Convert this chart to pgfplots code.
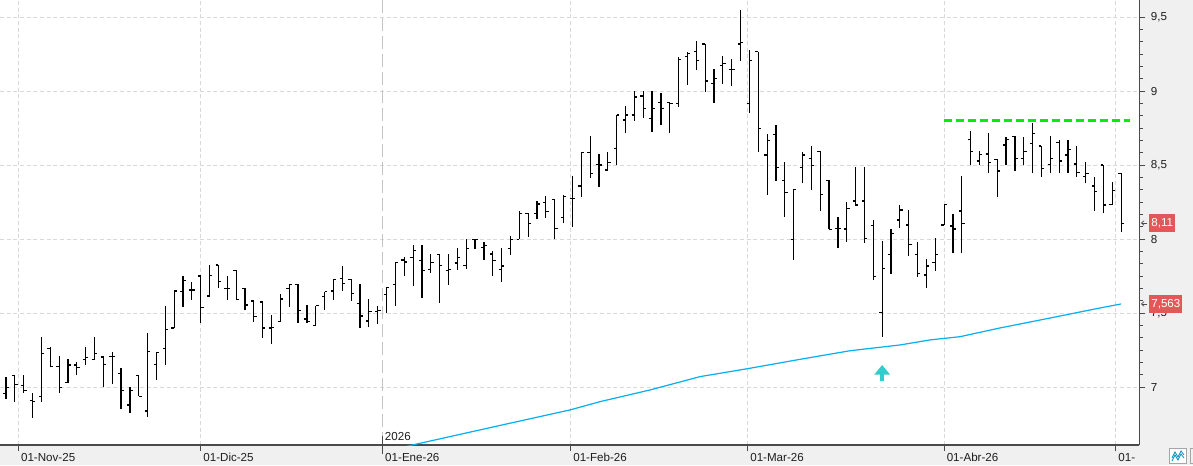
\documentclass[border=0pt]{standalone}
\usepackage{pgfplots}
\pgfplotsset{compat=1.18}
\usepackage{pgfplotstable}
\usepackage{fontspec}
\setmainfont{Liberation Sans}
\usetikzlibrary{arrows.meta}
\definecolor{bandgray}{HTML}{F0F0F0}
\definecolor{gridgray}{HTML}{D9D9D9}
\definecolor{yeargray}{HTML}{C4C4C4}
\definecolor{axisgray}{HTML}{4A4A4A}
\definecolor{txt}{HTML}{1E1E1E}
\definecolor{maBlue}{HTML}{00B0F0}
\definecolor{resGreen}{HTML}{00F000}
\definecolor{upTeal}{HTML}{33CCCC}
\definecolor{tagRed}{HTML}{E25858}

\pgfdeclareplotmark{ohlcopen}{\pgfpathmoveto{\pgfqpoint{-\pgfplotmarksize}{0pt}}\pgfpathlineto{\pgfqpoint{0pt}{0pt}}\pgfusepathqstroke}
\pgfdeclareplotmark{ohlcclose}{\pgfpathmoveto{\pgfqpoint{0pt}{0pt}}\pgfpathlineto{\pgfqpoint{\pgfplotmarksize}{0pt}}\pgfusepathqstroke}
\pgfdeclareplotmark{nomark}{}

\pgfplotstableread{
i O H L C
1 6.96 7.07 6.92 7.00
2 7.08 7.08 6.90 7.02
3 7.01 7.08 6.96 6.98
4 6.91 6.96 6.795 6.905
5 6.94 7.34 6.90 7.23
6 7.26 7.27 7.135 7.14
7 7.14 7.21 6.96 7.00
8 7.03 7.19 7.03 7.15
9 7.15 7.17 7.085 7.135
10 7.19 7.27 7.15 7.20
11 7.19 7.34 7.19 7.23
12 7.205 7.21 7.005 7.155
13 7.21 7.24 7.02 7.21
14 7.095 7.13 6.856 6.98
15 6.88 7.00 6.825 6.98
16 7.08 7.08 6.94 6.94
17 6.84 7.365 6.80 7.24
18 7.155 7.234 7.05 7.234
19 7.26 7.55 7.15 7.39
20 7.40 7.65 7.40 7.65
21 7.646 7.752 7.545 7.72
22 7.657 7.71 7.59 7.657
23 7.752 7.752 7.436 7.54
24 7.617 7.826 7.617 7.758
25 7.826 7.826 7.668 7.716
26 7.67 7.752 7.59 7.67
27 7.79 7.79 7.594 7.594
28 7.668 7.668 7.52 7.556
29 7.583 7.59 7.443 7.477
30 7.576 7.576 7.335 7.40
31 7.40 7.488 7.292 7.405
32 7.443 7.63 7.443 7.596
33 7.668 7.70 7.545 7.695
34 7.695 7.695 7.436 7.52
35 7.461 7.556 7.432 7.443
36 7.42 7.55 7.42 7.55
37 7.612 7.646 7.52 7.646
38 7.65 7.73 7.59 7.73
39 7.736 7.82 7.653 7.70
40 7.73 7.73 7.585 7.635
41 7.567 7.698 7.40 7.482
42 7.448 7.594 7.405 7.51
43 7.51 7.55 7.43 7.518
44 7.628 7.676 7.50 7.676
45 7.696 7.845 7.55 7.845
46 7.86 7.878 7.752 7.847
47 7.878 7.96 7.685 7.926
48 7.858 7.96 7.606 7.79
49 7.797 7.901 7.775 7.845
50 7.899 7.899 7.572 7.824
51 7.79 7.901 7.692 7.797
52 7.84 7.94 7.793 7.878
53 7.824 8.0 7.80 7.94
54 8.0 8.0 7.935 8.0
55 7.946 7.982 7.86 7.96
56 7.901 7.921 7.752 7.858
57 7.797 7.94 7.714 7.82
58 7.94 8.023 7.894 8.0
59 8.0 8.19 8.0 8.176
60 8.176 8.176 8.018 8.108
61 8.176 8.259 8.135 8.239
62 8.25 8.293 8.147 8.187
63 8.27 8.27 8.0 8.074
64 8.149 8.30 8.108 8.288
65 8.277 8.428 8.086 8.277
66 8.36 8.588 8.288 8.588
67 8.588 8.698 8.417 8.446
68 8.507 8.576 8.356 8.502
69 8.468 8.59 8.464 8.52
70 8.615 8.84 8.504 8.84
71 8.806 8.901 8.716 8.84
72 8.84 9.002 8.802 8.962
73 8.968 9.002 8.817 8.885
74 8.817 9.002 8.727 8.885
75 8.926 8.986 8.772 8.885
76 8.923 8.923 8.716 8.919
77 8.919 9.234 8.896 9.216
78 9.234 9.268 9.043 9.257
79 9.268 9.34 9.144 9.207
80 9.32 9.32 8.998 9.07
81 9.054 9.151 8.923 9.088
82 9.173 9.239 9.05 9.189
83 9.148 9.216 9.036 9.148
84 9.32 9.549 9.207 9.332
85 8.919 9.279 8.856 9.207
86 9.268 9.268 8.592 8.75
87 8.57 8.712 8.30 8.67
88 8.71 8.772 8.396 8.486
89 8.40 8.522 8.153 8.317
90 8.0 8.337 7.86 8.337
91 8.486 8.592 8.378 8.569
92 8.547 8.63 8.333 8.50
93 8.594 8.594 8.193 8.304
94 8.398 8.398 8.067 8.067
95 8.074 8.153 7.943 8.074
96 8.069 8.252 7.984 8.209
97 8.259 8.491 8.225 8.232
98 8.259 8.491 7.977 8.006
99 8.094 8.13 7.725 7.747
100 7.506 7.988 7.342 7.804
101 7.898 8.069 7.765 8.04
102 8.13 8.232 8.074 8.198
103 8.096 8.198 7.889 7.966
104 7.898 7.979 7.747 7.77
105 7.759 7.864 7.673 7.819
106 7.844 8.011 7.788 7.898
107 8.096 8.236 8.096 8.236
108 8.09 8.171 7.905 8.069
109 8.191 8.427 7.905 8.108
110 8.675 8.731 8.50 8.596
111 8.529 8.596 8.50 8.574
112 8.576 8.72 8.446 8.52
113 8.54 8.54 8.288 8.461
114 8.637 8.693 8.50 8.677
115 8.693 8.698 8.464 8.547
116 8.547 8.689 8.50 8.592
117 8.648 8.788 8.446 8.716
118 8.63 8.63 8.423 8.479
119 8.506 8.698 8.446 8.547
120 8.655 8.671 8.446 8.529
121 8.569 8.671 8.446 8.608
122 8.509 8.63 8.423 8.452
123 8.427 8.522 8.378 8.446
124 8.36 8.423 8.193 8.322
125 8.502 8.502 8.175 8.232
126 8.236 8.389 8.232 8.328
127 8.446 8.446 8.051 8.108
}\ohlc

\pgfplotstableread{
i ma
46 6.597
47.29 6.615
56.8 6.742
64.73 6.847
68.12 6.903
73.77 6.982
79.42 7.072
84.81 7.126
90.72 7.189
96.37 7.247
102.02 7.286
105.4 7.320
108.8 7.342
113.32 7.401
118.97 7.468
124.62 7.536
127 7.563
}\matable

\begin{document}
\begin{tikzpicture}
\path[use as bounding box] (0,0) rectangle (894.75pt,-348.75pt);
\fill[bandgray] (0,0) rectangle (894.75pt,-348.75pt);
\begin{axis}[
  at={(0pt,0pt)}, anchor=north west,
  scale only axis, width=854.5pt, height=333.75pt,
  xmin=0.322, xmax=129.06, ymin=6.61, ymax=9.617,
  axis background/.style={fill=white},
  axis x line*=bottom, axis y line*=right,
  axis line style={draw=axisgray, line width=1pt},
  tick align=outside,
  major tick length=4.5pt, minor tick length=2.6pt,
  tick style={draw=axisgray, line width=0.75pt},
  ytick={7,7.5,8,8.5,9,9.5}, minor y tick num=5,
  xtick={2.4,23,64.8,84.8,107,126.4},
  xticklabels={01-Nov-25,01-Dic-25,01-Feb-26,01-Mar-26,01-Abr-26,01-},
  extra x ticks={43.55}, extra x tick labels={01-Ene-26},
  extra x tick style={major tick length=13.5pt, tick align=center,
     xticklabel style={yshift=2.25pt},
     grid style={draw=yeargray, line width=1pt, dash pattern=on 10pt off 3.5pt}},
  xmajorgrids, ymajorgrids,
  grid style={draw=gridgray, line width=0.75pt, dash pattern=on 3pt off 2pt},
  /pgf/number format/assume math mode=true,
  /pgf/number format/use comma,
  ticklabel style={font=\fontsize{8.7}{10}\selectfont, text=txt},
  xticklabel style={anchor=base west, inner sep=0pt, xshift=1.8pt, yshift=-7.5pt},
  yticklabel style={anchor=west, inner sep=0pt, xshift=4pt},
  clip mode=individual,
]
% moving average
\addplot[maBlue, line width=0.9pt] table[x=i, y=ma] {\matable};
% resistance
\addplot[resGreen, line width=2.2pt, dash pattern=on 6pt off 3pt] coordinates {(107,8.80) (128,8.80)};
% OHLC high-low
\addplot[black, only marks, mark=nomark,
  error bars/.cd, y dir=plus, y explicit, error mark=none,
  error bar style={draw=black, line width=0.9pt, solid}]
  table[x=i, y=L, y error expr=\thisrow{H}-\thisrow{L}] {\ohlc};
\addplot[black, only marks, mark=ohlcopen, mark size=2.1pt, mark options={line width=0.9pt}] table[x=i, y=O] {\ohlc};
\addplot[black, only marks, mark=ohlcclose, mark size=2.1pt, mark options={line width=0.9pt}] table[x=i, y=C] {\ohlc};
% buy signal arrow
\addplot[upTeal, line width=3.5pt, -{Triangle[width=11.5pt,length=7.3pt]}] coordinates {(100,7.043) (100,7.151)};
% year label
\node[anchor=base west, inner sep=0pt, font=\fontsize{8.7}{10}\selectfont, text=txt] at (axis cs:43.55,6.61) [xshift=1.6pt, yshift=3.3pt] {2026};
% price tags
\draw[axisgray, line width=0.5pt, -{Straight Barb[length=2pt,width=3.5pt]}] ([xshift=6pt]axis cs:129.06,8.11) -- ([xshift=1.2pt]axis cs:129.06,8.11);
\draw[axisgray, line width=0.5pt, -{Straight Barb[length=2pt,width=3.5pt]}] ([xshift=6pt]axis cs:129.06,7.563) -- ([xshift=1.2pt]axis cs:129.06,7.563);
\node[anchor=west, fill=tagRed, text=white, inner xsep=1.5pt, inner ysep=0pt, minimum height=13.5pt, font=\fontsize{8.7}{10}\selectfont] at (axis cs:129.06,8.11) [xshift=7.3pt] {8,11};
\node[anchor=west, fill=tagRed, text=white, inner xsep=1.5pt, inner ysep=0pt, minimum height=13.5pt, font=\fontsize{8.7}{10}\selectfont] at (axis cs:129.06,7.563) [xshift=7.3pt] {7,563};
\end{axis}
% small toolbar icon
\draw[fill=white, draw=black!35, line width=0.6pt] (876.75pt,-336pt) rectangle (889.5pt,-347.25pt);
\draw[color=maBlue!80!black, line width=0.6pt] (879pt,-343.5pt) -- (881.25pt,-339pt) -- (883.5pt,-342.75pt) -- (885.75pt,-338.25pt) -- (888pt,-341.25pt);
\draw[color=maBlue!80!black, line width=0.6pt] (879pt,-345.75pt) -- (881.25pt,-341.25pt) -- (883.5pt,-345pt) -- (885.75pt,-340.5pt) -- (888pt,-343.5pt);
\draw[draw=black!35, line width=0.6pt] (892.5pt,-336pt) rectangle (900pt,-347.25pt);
\end{tikzpicture}
\end{document}
